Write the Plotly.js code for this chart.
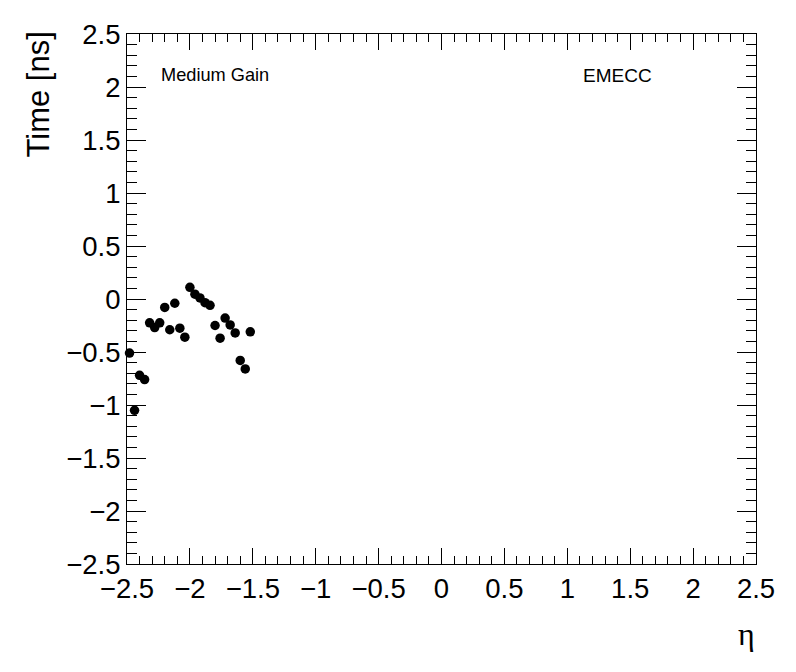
<!DOCTYPE html>
<html>
<head>
<meta charset="utf-8">
<script src="https://cdn.plot.ly/plotly-3.0.1.min.js"></script>
<style>html,body{margin:0;padding:0;background:#fff}#plot{width:796px;height:672px}</style>
</head>
<body>
<div id="plot"></div>
<script>
var etaValues = [-2.48, -2.44, -2.40, -2.36, -2.32, -2.28, -2.24, -2.20, -2.16, -2.12, -2.08, -2.04, -2.00, -1.96, -1.92, -1.88, -1.84, -1.80, -1.76, -1.72, -1.68, -1.64, -1.60, -1.56, -1.52];
var timeValues = [-0.51, -1.05, -0.72, -0.76, -0.225, -0.27, -0.225, -0.08, -0.29, -0.04, -0.275, -0.36, 0.11, 0.045, 0.01, -0.035, -0.06, -0.25, -0.37, -0.18, -0.245, -0.32, -0.58, -0.66, -0.31];
var tickVals = [-2.5, -2, -1.5, -1, -0.5, 0, 0.5, 1, 1.5, 2, 2.5];
var tickText = ["\u22122.5", "\u22122", "\u22121.5", "\u22121", "\u22120.5", "0", "0.5", "1", "1.5", "2", "2.5"];
var xTitle = "\u03b7";
var yTitle = "Time [ns]";
var label1 = "Medium Gain";
var label2 = "EMECC";

var FONT = "Liberation Sans, Arial, Helvetica, sans-serif";

function axisBase(len) {
  return {
    range: [-2.5, 2.5],
    tickmode: "array",
    tickvals: tickVals,
    ticktext: tickText,
    ticks: "inside",
    ticklen: len,
    tickwidth: 1,
    tickcolor: "#000",
    showline: true,
    linecolor: "#000",
    linewidth: 1,
    showgrid: false,
    zeroline: false,
    minor: {dtick: 0.1, ticks: "inside", ticklen: Math.round(len/2), tickcolor: "#000", tickwidth: 1, showgrid: false},
    tickfont: {family: FONT, size: 27.5, color: "#000"},
    fixedrange: true
  };
}

var xa = axisBase(16);
var ya = axisBase(19);
var xa2 = axisBase(16); xa2.overlaying = "x"; xa2.side = "top"; xa2.showticklabels = false; xa2.matches = "x";
var ya2 = axisBase(19); ya2.overlaying = "y"; ya2.side = "right"; ya2.showticklabels = false; ya2.matches = "y";

var trace = {
  x: etaValues,
  y: timeValues,
  type: "scatter",
  mode: "markers",
  marker: {color: "#000", size: 9.5, symbol: "circle"},
  cliponaxis: false,
  hoverinfo: "x+y"
};
var dummy = {x: [0], y: [0], xaxis: "x2", yaxis: "y2", mode: "markers", marker: {opacity: 0}, hoverinfo: "skip", showlegend: false};

var layout = {
  width: 796, height: 672,
  margin: {l: 127, r: 40, t: 34, b: 108, pad: 0},
  paper_bgcolor: "#fff", plot_bgcolor: "#fff",
  showlegend: false,
  xaxis: xa, yaxis: ya, xaxis2: xa2, yaxis2: ya2,
  font: {family: FONT, color: "#000"},
  annotations: [
    {text: label1, xref: "paper", yref: "paper", x: (159-127)/629, y: (564-75)/530, xanchor: "left", yanchor: "middle", showarrow: false, font: {family: FONT, size: 18.2, color: "#000"}},
    {text: label2, xref: "paper", yref: "paper", x: (617-127)/629, y: (564-75)/530, xanchor: "center", yanchor: "middle", showarrow: false, font: {family: FONT, size: 19, color: "#000"}},
    {text: yTitle, xref: "paper", yref: "paper", x: (37.5-127)/629, y: (564-30)/530, xanchor: "center", yanchor: "top", textangle: -90, showarrow: false, font: {family: FONT, size: 31, color: "#000"}},
    {text: xTitle, xref: "paper", yref: "paper", x: (746-127)/629, y: (564-634)/530, xanchor: "center", yanchor: "middle", showarrow: false, font: {family: "Liberation Serif, Times New Roman, serif", size: 32, color: "#000"}}
  ]
};

Plotly.newPlot("plot", [trace, dummy], layout, {displayModeBar: false, staticPlot: true});
</script>
</body>
</html>
